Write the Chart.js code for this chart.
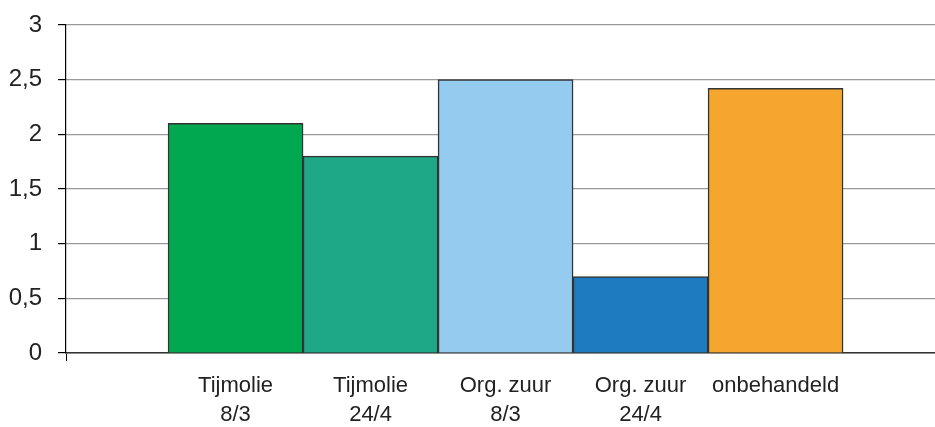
<!DOCTYPE html>
<html>
<head>
<meta charset="utf-8">
<script src="https://cdn.jsdelivr.net/npm/chart.js@4/dist/chart.umd.min.js"></script>
<style>
  html, body { margin: 0; padding: 0; background: #fff; }
  #wrap { width: 935px; height: 427px; }
</style>
</head>
<body>
<div id="wrap"><canvas id="myChart"></canvas></div>
<script>
// the values
const categories = [["Tijmolie", "8/3"], ["Tijmolie", "24/4"], ["Org. zuur", "8/3"], ["Org. zuur", "24/4"], ["onbehandeld"]]
const values = [2.1, 1.8, 2.5, 0.7, 2.42]
const barColors = ["#00a84f", "#1fa888", "#94cbee", "#1e7bbf", "#f4a62f"]
const yTicks = [0, 0.5, 1, 1.5, 2, 2.5, 3]

// bars sit on a number line so the empty room left and right can be kept
const xMin = -1.256
const xMax = 5.181

const fontName = "'Liberation Sans', Arial, sans-serif"

const points = values.map(function (v, i) { return { x: i, y: v } })

const ctx = document.getElementById('myChart').getContext('2d')
const chart = new Chart(ctx, {
  type: 'bar',
  data: {
    datasets: [{
      data: points,
      backgroundColor: barColors,
      borderColor: '#333',
      borderWidth: 1.5,
      barPercentage: 1,
      categoryPercentage: 1
    }]
  },
  options: {
    responsive: true,
    maintainAspectRatio: false,
    animation: false,
    layout: { padding: { top: 25, right: 0, left: 0, bottom: 0 } },
    plugins: { legend: { display: false }, tooltip: { enabled: false } },
    scales: {
      x: {
        type: 'linear',
        offset: false,
        min: xMin,
        max: xMax,
        afterBuildTicks: function (scale) {
          scale.ticks = [xMin].concat(categories.map(function (c, i) { return i })).map(function (v) { return { value: v } })
        },
        afterFit: function (scale) { scale.height = 74 },
        grid: {
          offset: false,
          drawOnChartArea: false,
          tickLength: 8,
          color: function (c) { return c.index === 0 ? '#000' : 'rgba(0,0,0,0)' }
        },
        border: { color: '#333', width: 1.5 },
        ticks: {
          autoSkip: false,
          maxRotation: 0,
          padding: 11,
          color: '#222',
          font: { family: fontName, size: 22, lineHeight: 1.3 },
          callback: function (v, i) { return i === 0 ? '' : categories[i - 1] }
        }
      },
      y: {
        min: 0,
        max: 3,
        afterBuildTicks: function (scale) {
          scale.ticks = yTicks.map(function (v) { return { value: v } })
        },
        afterFit: function (scale) {
          scale.width = 66
          scale.paddingTop = 0
          scale.paddingBottom = 0
        },
        grid: { color: '#999', tickColor: '#000', tickLength: 8, lineWidth: 1.2 },
        border: { color: '#000', width: 1.2 },
        ticks: {
          padding: 16,
          color: '#222',
          font: { family: fontName, size: 24 },
          callback: function (v) { return String(v).replace('.', ',') }
        }
      }
    }
  }
})
</script>
</body>
</html>
